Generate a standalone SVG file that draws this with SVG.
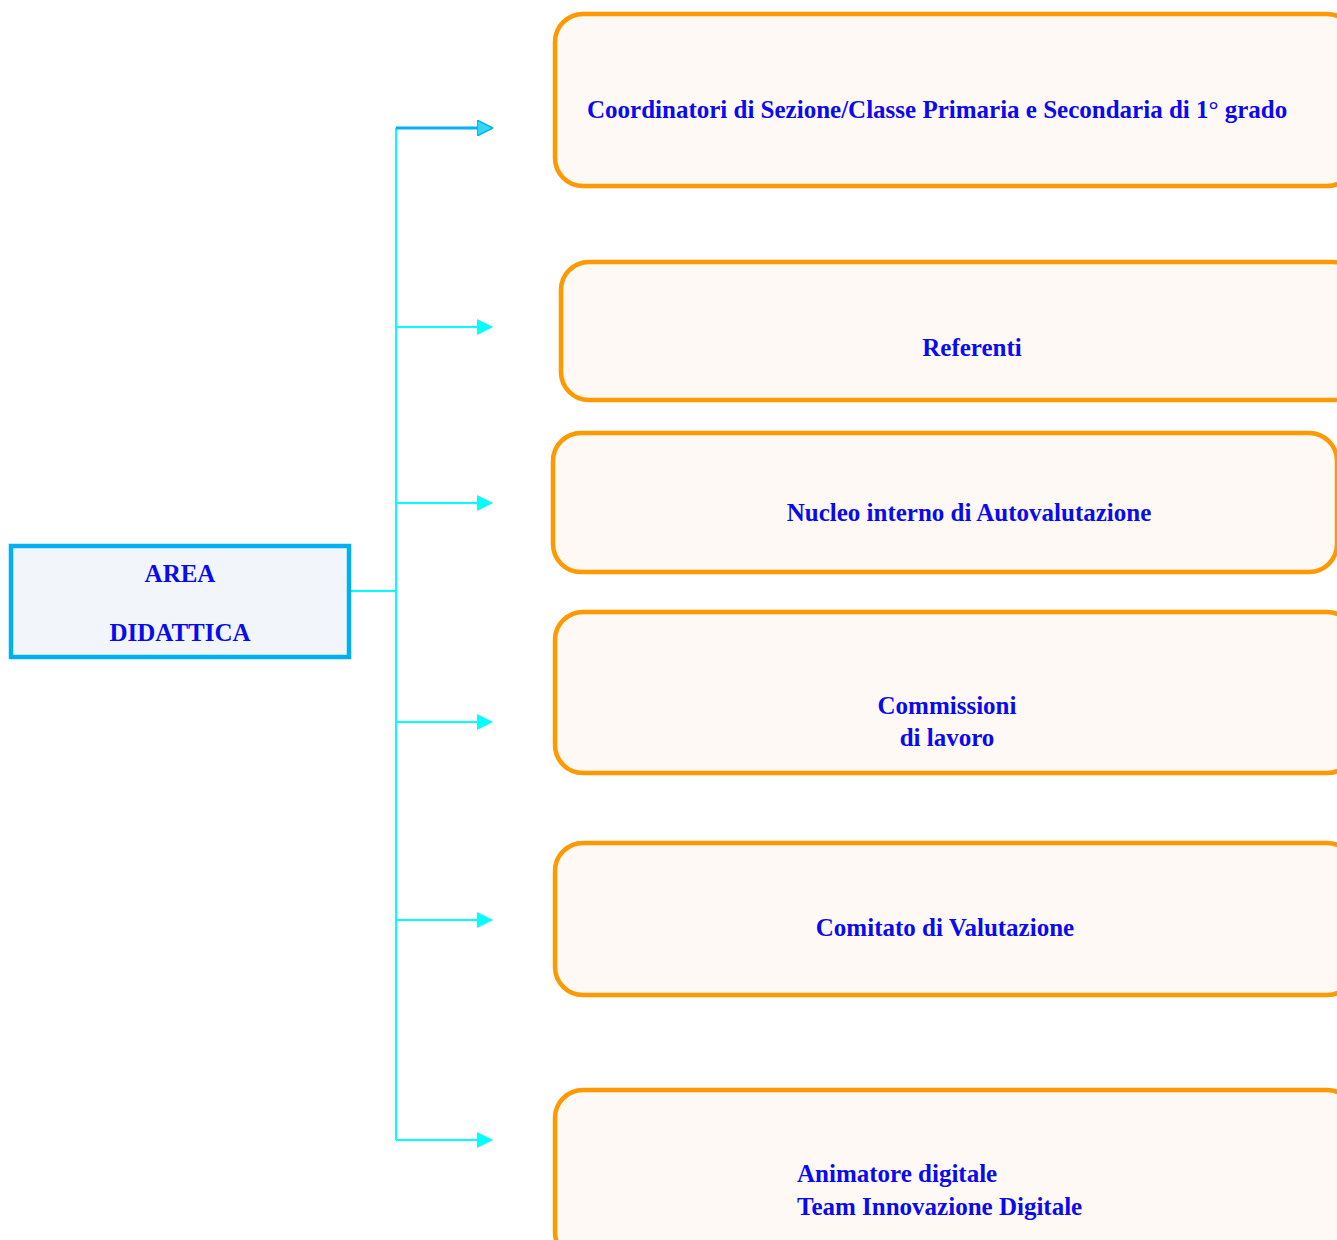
<svg xmlns="http://www.w3.org/2000/svg" width="1337" height="1240" viewBox="0 0 1337 1240">
<style>
.box{fill:#FEF9F5;stroke:#FF9900;stroke-width:4.5}
.root{fill:#F2F6FA;stroke:#00B0F0;stroke-width:4.5}
text{font-family:"Liberation Serif","DejaVu Serif",serif;font-weight:bold;font-size:25px;fill:#0A0AEE}
.c{text-anchor:middle}
.ln{fill:none;stroke:#00FFFF;stroke-width:2}
</style>
<defs>
<marker id="ah" markerWidth="16" markerHeight="16" viewBox="0 0 16 16" refX="15" refY="8" orient="auto" markerUnits="userSpaceOnUse">
<path d="M0,0 L16,8 L0,16 Z" fill="#00FFFF"/>
</marker>
<marker id="ah2" markerWidth="16" markerHeight="16" viewBox="0 0 16 16" refX="15" refY="8" orient="auto" markerUnits="userSpaceOnUse">
<path d="M0,0 L16,8 L0,16 Z" fill="#33D6F5" stroke="#00B0F0" stroke-width="1.5"/>
</marker>
</defs>
<g id="connectors">
<path class="ln" d="M349,591 H396"/>
<path class="ln" d="M396,128 V1140"/>
<path d="M396,128 H492" fill="none" stroke="#00B0F0" stroke-width="3" marker-end="url(#ah2)"/>
<path class="ln" d="M396,327 H492" marker-end="url(#ah)"/>
<path class="ln" d="M396,503 H492" marker-end="url(#ah)"/>
<path class="ln" d="M396,722 H492" marker-end="url(#ah)"/>
<path class="ln" d="M396,920 H492" marker-end="url(#ah)"/>
<path class="ln" d="M396,1140 H492" marker-end="url(#ah)"/>
</g>
<g id="root">
<rect class="root" x="11" y="546" width="338" height="111"/>
<text class="c" x="180" y="582">AREA</text>
<text class="c" x="180" y="641">DIDATTICA</text>
</g>
<g id="n1">
<rect class="box" x="555" y="14" width="800" height="172" rx="28"/>
<text x="587" y="118">Coordinatori di Sezione/Classe Primaria e Secondaria di 1° grado</text>
</g>
<g id="n2">
<rect class="box" x="561" y="262" width="800" height="138" rx="28"/>
<text class="c" x="972" y="356">Referenti</text>
</g>
<g id="n3">
<rect class="box" x="553" y="433" width="784" height="139" rx="28"/>
<text class="c" x="969" y="521">Nucleo interno di Autovalutazione</text>
</g>
<g id="n4">
<rect class="box" x="555" y="612" width="800" height="161" rx="28"/>
<text class="c" x="947" y="714">Commissioni</text>
<text class="c" x="947" y="746">di lavoro</text>
</g>
<g id="n5">
<rect class="box" x="555" y="843" width="800" height="152" rx="28"/>
<text class="c" x="945" y="936">Comitato di Valutazione</text>
</g>
<g id="n6">
<rect class="box" x="555" y="1090" width="800" height="170" rx="28"/>
<text x="797" y="1182">Animatore digitale</text>
<text x="797" y="1215">Team Innovazione Digitale</text>
</g>
</svg>
